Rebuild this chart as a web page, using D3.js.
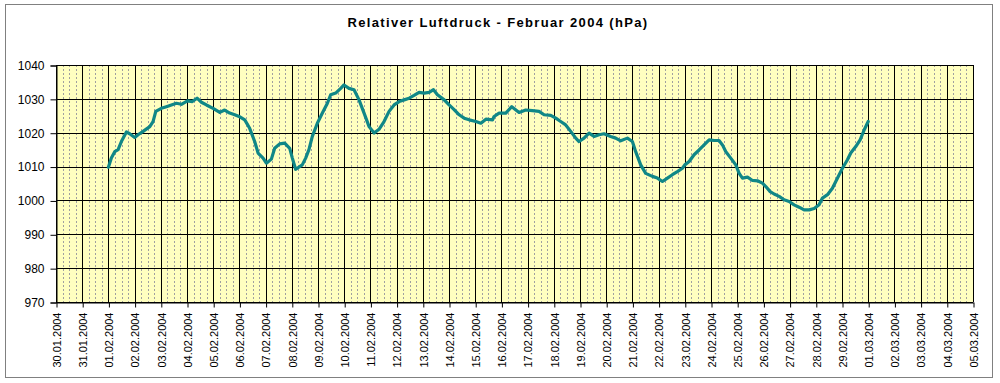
<!DOCTYPE html>
<html>
<head>
<meta charset="utf-8">
<script src="https://cdn.jsdelivr.net/npm/d3@7"></script>
<style>
  html, body { margin: 0; padding: 0; background: #fff; }
  svg { display: block; font-family: Arial, "Liberation Sans", sans-serif; }
</style>
</head>
<body>
<svg id="chart" width="1000" height="383"></svg>
<script>
// ---- Data ----
const title = "Relativer Luftdruck - Februar 2004 (hPa)";
const xTickLabels = [
  "30.01.2004","31.01.2004","01.02.2004","02.02.2004","03.02.2004","04.02.2004",
  "05.02.2004","06.02.2004","07.02.2004","08.02.2004","09.02.2004","10.02.2004",
  "11.02.2004","12.02.2004","13.02.2004","14.02.2004","15.02.2004","16.02.2004",
  "17.02.2004","18.02.2004","19.02.2004","20.02.2004","21.02.2004","22.02.2004",
  "23.02.2004","24.02.2004","25.02.2004","26.02.2004","27.02.2004","28.02.2004",
  "29.02.2004","01.03.2004","02.03.2004","03.03.2004","04.03.2004","05.03.2004"
];
const yTicks = [970, 980, 990, 1000, 1010, 1020, 1030, 1040];
// hours since 01.02.2004 00:00
const hours = [
  0, 2.7, 5.8, 8.9, 11.9, 16.5, 19.5, 24.1, 27.2, 31.8, 37.9, 40.9, 43.4, 48.5,
  53.1, 57.7, 62.3, 66.9, 72.4, 76.9, 81.2, 85.2, 89.8, 95.9, 102, 106.5, 111.1,
  115.7, 119.7, 124.9, 129.4, 134, 137.1, 141.7, 144.7, 149.3, 152.3, 156.9, 161.5,
  166.1, 168.5, 171.5, 173.0, 177.6, 180.7, 183.7, 186.8, 191.4, 196, 200.6, 203.6,
  208.2, 212.8, 215.8, 220.4, 225, 229.6, 234.2, 238.8, 243.4, 247.9, 252.5, 257.1,
  261.7, 266.3, 270.9, 275.5, 280, 284.6, 289.2, 293.8, 297.8, 301.4, 307.6, 312.1,
  316.7, 321.3, 325.9, 330.5, 336.6, 341.2, 345.8, 351.9, 353.3, 357.9, 364, 369.5,
  376.2, 382.3, 388.4, 394.5, 399.1, 405.2, 409.8, 414.3, 418.9, 423.5, 428.1, 431.1,
  435.7, 440.3, 444.9, 449.5, 454, 460.1, 464.7, 469.3, 475.4, 480, 483, 487.6,
  492.2, 498.3, 502.9, 507.5, 512.1, 516.6, 521.2, 525.8, 528, 532, 536.5, 541.1,
  545.7, 550.3, 554.9, 559.4, 562.5, 565.6, 570.1, 574.7, 577.8, 580.8, 585.4, 590,
  594.6, 599.1, 602.2, 606.2, 609.8, 614.4, 619, 623.6, 628.1, 632.7, 637.3, 641.9,
  646.5, 651, 654.1, 658.7, 663.2, 666.3, 669.4, 672.4, 677, 680, 684.6, 688.6,
  692.3, 696
];
const pressure = [
  1009.8, 1012.5, 1014.4, 1015.0, 1017.4, 1020.2, 1019.7, 1018.6, 1019.4, 1020.4,
  1021.8, 1023.3, 1026.3, 1027.2, 1027.7, 1028.2, 1028.7, 1028.4, 1029.4, 1029.2,
  1030.2, 1029.0, 1028.2, 1027.2, 1026.0, 1026.7, 1025.8, 1025.3, 1024.8, 1023.8,
  1021.3, 1017.4, 1014.0, 1012.5, 1011.0, 1012.2, 1015.4, 1016.7, 1016.9, 1015.4,
  1012.5, 1009.2, 1009.5, 1010.5, 1012.5, 1015.0, 1018.9, 1022.8, 1025.8, 1028.7,
  1031.2, 1031.7, 1033.1, 1034.1, 1033.1, 1032.7, 1029.7, 1025.8, 1021.8, 1019.9,
  1021.0, 1023.3, 1026.3, 1028.2, 1029.2, 1029.7, 1030.2, 1031.0, 1031.9, 1031.7,
  1031.9, 1032.7, 1031.2, 1029.7, 1028.2, 1026.8, 1025.3, 1024.3, 1023.8, 1023.3,
  1022.8, 1024.0, 1023.8, 1024.8, 1025.8, 1025.8, 1027.7, 1026.0, 1026.7, 1026.5,
  1026.3, 1025.3, 1025.1, 1024.3, 1023.3, 1022.3, 1020.4, 1018.4, 1017.4, 1018.4,
  1019.9, 1018.9, 1019.4, 1019.7, 1018.9, 1018.4, 1017.6, 1018.4, 1017.4, 1014.4,
  1010.5, 1008.0, 1007.1, 1006.6, 1005.6, 1006.6, 1007.6, 1008.5, 1009.5, 1010.5,
  1011.5, 1013.5, 1014.9, 1016.4, 1017.9, 1017.7, 1017.7, 1016.4, 1014.4, 1012.5,
  1010.5, 1008.0, 1006.6, 1006.9, 1005.9, 1005.8, 1005.1, 1004.1, 1002.6, 1001.9,
  1001.2, 1000.2, 999.7, 998.7, 998.0, 997.2, 997.2, 997.6, 998.7, 1000.7,
  1001.7, 1003.6, 1005.6, 1007.6, 1009.5, 1012.0, 1014.0, 1015.9, 1017.9, 1020.8,
  1023.3
];

// ---- Setup ----
const W = 1000, H = 383;
const plot = { left: 56, top: 65, right: 973, bottom: 302 };
const parseDE = s => { const [d, m, y] = s.split(".").map(Number); return new Date(Date.UTC(y, m - 1, d)); };
const start = parseDE("01.02.2004");
const tickDates = xTickLabels.map(parseDE);
const data = hours.map((h, i) => ({ t: new Date(start.getTime() + h * 3600e3), v: pressure[i] }));

const svg = d3.select("#chart");

// outer frame
svg.append("rect").attr("x", 5.5).attr("y", 4.5).attr("width", 987).attr("height", 373)
  .attr("fill", "#fff").attr("stroke", "#808080").attr("stroke-width", 1);

const x = d3.scaleUtc().domain([tickDates[0], tickDates[tickDates.length - 1]]).range([plot.left, plot.right]);
const y = d3.scaleLinear().domain([970, 1040]).range([plot.bottom, plot.top]);

// plot background
svg.append("rect").attr("x", plot.left).attr("y", plot.top)
  .attr("width", plot.right - plot.left).attr("height", plot.bottom - plot.top)
  .attr("fill", "#FFFFC0");

// minor vertical grid (every 6 hours)
const minor = d3.utcHour.every(6).range(tickDates[0], tickDates[tickDates.length - 1])
  .filter(d => d.getUTCHours() !== 0);
svg.append("g").selectAll("line").data(minor).join("line")
  .attr("x1", d => Math.round(x(d)) + 0.5).attr("x2", d => Math.round(x(d)) + 0.5)
  .attr("y1", plot.top).attr("y2", plot.bottom)
  .attr("stroke", "#a0a0a0").attr("stroke-width", 1).attr("stroke-dasharray", "2,2");

// major vertical grid
svg.append("g").selectAll("line").data(tickDates).join("line")
  .attr("x1", d => Math.round(x(d)) + 0.5).attr("x2", d => Math.round(x(d)) + 0.5)
  .attr("y1", plot.top).attr("y2", plot.bottom)
  .attr("stroke", "#000").attr("stroke-width", 1);

// horizontal grid
svg.append("g").selectAll("line").data(yTicks).join("line")
  .attr("x1", plot.left).attr("x2", plot.right)
  .attr("y1", d => Math.round(y(d)) + 0.5).attr("y2", d => Math.round(y(d)) + 0.5)
  .attr("stroke", "#000").attr("stroke-width", 1);

// y axis
const yAxis = d3.axisLeft(y).tickValues(yTicks).tickSize(6).tickPadding(6).tickFormat(d3.format("d"));
const gy = svg.append("g").attr("transform", `translate(${plot.left + 0.5},0.5)`).call(yAxis);
gy.selectAll("text").attr("font-size", 12).attr("fill", "#000").attr("font-family", "Arial, 'Liberation Sans', sans-serif");
gy.selectAll("line,path").attr("stroke", "#000");

// x axis
const xAxis = d3.axisBottom(x).tickValues(tickDates).tickSize(5).tickSizeOuter(0)
  .tickFormat((d, i) => xTickLabels[i]);
const gx = svg.append("g").attr("transform", `translate(0.5,${plot.bottom + 0.5})`).call(xAxis);
gx.selectAll("line,path").attr("stroke", "#000");
gx.selectAll("text")
  .attr("font-size", 11).attr("fill", "#000").attr("font-family", "Arial, 'Liberation Sans', sans-serif")
  .attr("text-anchor", "end").attr("dy", "0.35em").attr("x", -10).attr("y", 0)
  .attr("transform", "rotate(-90)");

// line
const line = d3.line().x(d => x(d.t)).y(d => y(d.v));
svg.append("path").datum(data).attr("d", line)
  .attr("fill", "none").attr("stroke", "#108787").attr("stroke-width", 3.2)
  .attr("stroke-linejoin", "round").attr("stroke-linecap", "round");

// title
svg.append("text").attr("x", 498).attr("y", 27).attr("text-anchor", "middle")
  .attr("font-size", 13).attr("font-weight", "bold").attr("letter-spacing", 1.35)
  .attr("fill", "#000").text(title);
</script>
</body>
</html>
